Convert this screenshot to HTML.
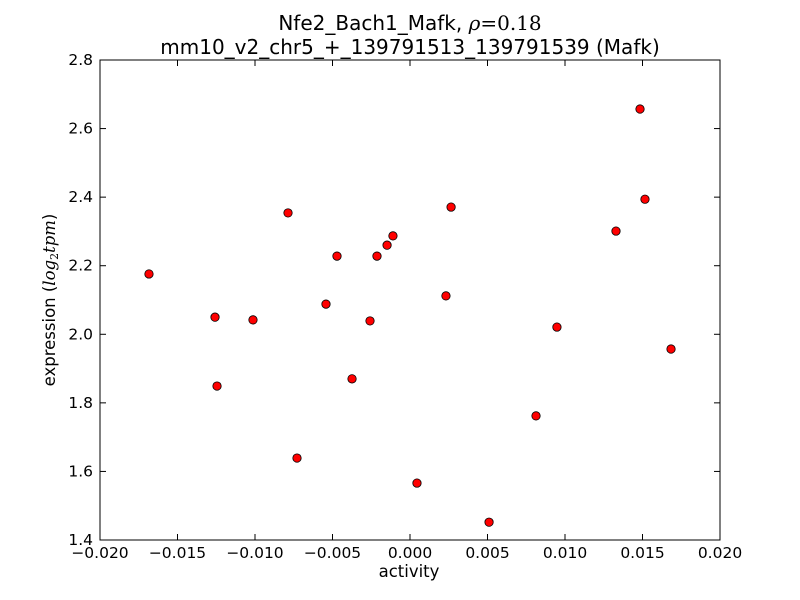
<!DOCTYPE html>
<html><head><meta charset="utf-8"><style>
html,body{margin:0;padding:0;background:#fff;}
svg{display:block;font-family:"DejaVu Sans","Liberation Sans",sans-serif;}
</style></head><body>
<svg id="chart" width="800" height="600" viewBox="0 0 800 600">
<rect x="0" y="0" width="800" height="600" fill="#fff"/>
<text x="410" y="30" font-size="20" text-anchor="middle">Nfe2_Bach1_Mafk, <tspan font-family="'DejaVu Serif',serif" font-style="italic">ρ</tspan><tspan font-family="'DejaVu Serif',serif">=0.18</tspan></text>
<text x="410" y="54" font-size="20" text-anchor="middle">mm10_v2_chr5_+_139791513_139791539 (Mafk)</text>
<g id="ticks"></g>
<g id="points"></g>
<rect x="100" y="60" width="620" height="480" fill="none" stroke="#000" stroke-width="1"/>
<text x="409" y="577" font-size="16.5" text-anchor="middle">activity</text>
<text transform="translate(55,300) rotate(-90)" font-size="16.5" text-anchor="middle">expression (<tspan font-family="'DejaVu Serif',serif" font-style="italic">log</tspan><tspan font-family="'DejaVu Serif',serif" font-size="11" dy="3">2</tspan><tspan font-family="'DejaVu Serif',serif" font-style="italic" dy="-3">tpm</tspan>)</text>
</svg>
<script>
const xVals=[-0.01684,-0.01258,-0.01245,-0.01013,-0.00787,-0.00729,-0.00542,-0.00471,-0.00374,-0.00258,-0.00213,-0.00148,-0.00110,0.00045,0.00232,0.00265,0.00510,0.00813,0.00948,0.01329,0.01484,0.01516,0.01684];
const yVals=[2.176,2.050,1.849,2.042,2.354,1.639,2.088,2.228,1.870,2.039,2.228,2.260,2.287,1.566,2.112,2.371,1.452,1.762,2.021,2.301,2.657,2.394,1.957];
const xTicks=[-0.020,-0.015,-0.010,-0.005,0.000,0.005,0.010,0.015,0.020];
const xTickLabels=["\u22120.020","\u22120.015","\u22120.010","\u22120.005","0.000","0.005","0.010","0.015","0.020"];
const yTicks=[1.4,1.6,1.8,2.0,2.2,2.4,2.6,2.8];
const yTickLabels=["1.4","1.6","1.8","2.0","2.2","2.4","2.6","2.8"];
const NS="http://www.w3.org/2000/svg";
function sx(v){return 100+(v+0.02)/0.04*620;}
function sy(v){return 540-(v-1.4)/1.4*480;}
const tg=document.getElementById('ticks'),pg=document.getElementById('points');
function mk(tag,attrs,parent){const e=document.createElementNS(NS,tag);for(const k in attrs)e.setAttribute(k,attrs[k]);parent.appendChild(e);return e;}
xTicks.forEach((t,i)=>{const x=sx(t);
 let l=mk('line',{x1:x,x2:x,y1:540,y2:534,stroke:'#000'},tg);
 
 
 let l2=mk('line',{x1:x,x2:x,y1:60,y2:66,stroke:'#000'},tg);
 
 
 let tx=mk('text',{x:x,y:558,'font-size':15.5,'text-anchor':'middle'},tg);tx.textContent=xTickLabels[i];
 
 
});
yTicks.forEach((t,i)=>{const y=sy(t);
 let l=mk('line',{x1:100,x2:106,y1:y,y2:y,stroke:'#000'},tg);
 
 
 let l2=mk('line',{x1:714,x2:720,y1:y,y2:y,stroke:'#000'},tg);
 
 
 let tx=mk('text',{x:93,y:y+5,'font-size':15.5,'text-anchor':'end'},tg);tx.textContent=yTickLabels[i];
 
 
});
xVals.forEach((v,i)=>{
 let c=mk('circle',{cx:sx(v),cy:sy(yVals[i]),r:4.2,fill:'#ff0000',stroke:'#000','stroke-width':0.8},pg);
 
 
});
</script>
</body></html>
